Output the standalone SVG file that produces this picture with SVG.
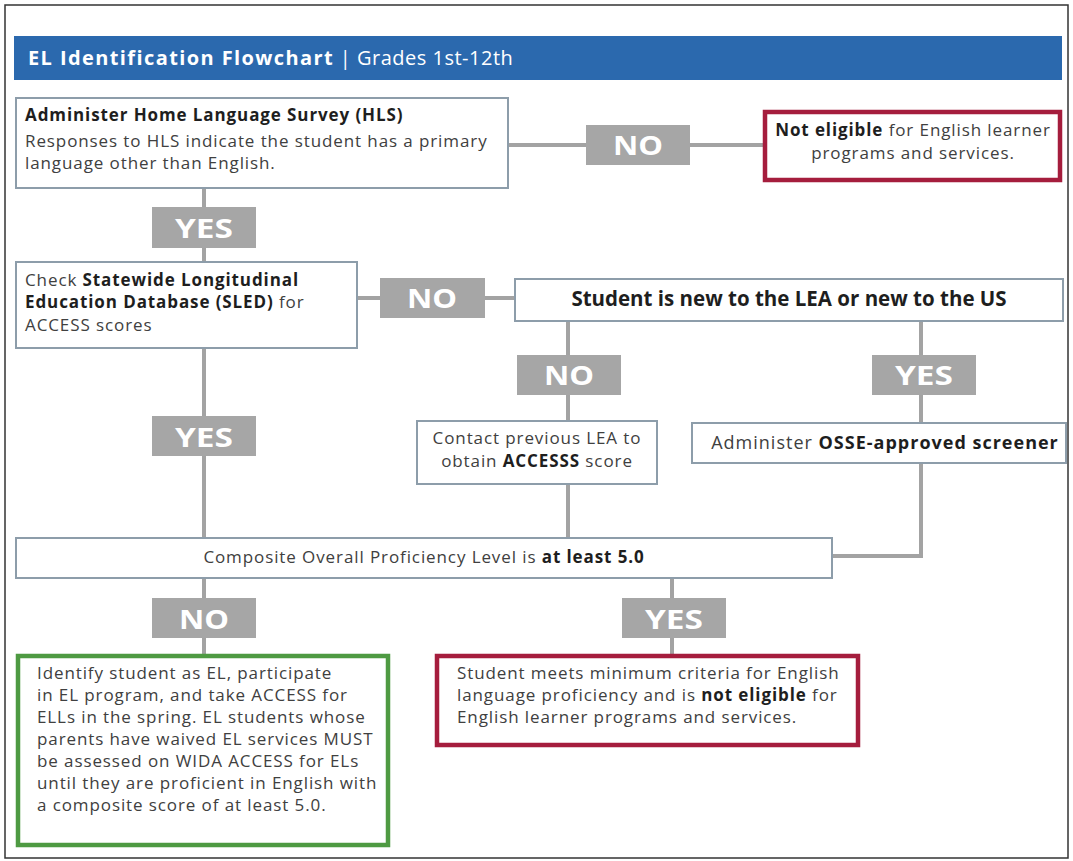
<svg xmlns="http://www.w3.org/2000/svg" width="1073" height="861" viewBox="0 0 1073 861">
<style>
text{font-family:"Open Sans","Noto Sans","Liberation Sans",sans-serif;fill:#404040;font-size:17px;letter-spacing:0.9px}
.b{font-weight:bold;fill:#1e1e1e}
.box{fill:#fff;stroke:#8d9daa;stroke-width:2}
.red{fill:#fff;stroke:#a51d3d;stroke-width:4.5}
.green{fill:#fff;stroke:#4e9a42;stroke-width:4.5}
.lbl{fill:#a6a6a6}
.lt{fill:#fff;font-weight:bold;font-size:27px;text-anchor:middle;letter-spacing:0}
.ln{fill:none;stroke:#a3a3a3;stroke-width:4}
.c{text-anchor:middle}
</style>
<rect x="0" y="0" width="1073" height="861" fill="#fff"/>
<rect x="5" y="5" width="1063" height="853" fill="none" stroke="#333" stroke-width="1.5"/>
<g id="banner">
<rect x="14" y="36" width="1048" height="44" fill="#2b69ae"/>
<text x="28" y="65" style="fill:#fff;font-size:20px;letter-spacing:0.5px"><tspan font-weight="bold" style="letter-spacing:1.4px">EL Identification Flowchart</tspan> |  Grades 1st-12th</text>
</g>
<g id="connectors">
<path class="ln" d="M508 145 H765"/>
<path class="ln" d="M204 188 V262"/>
<path class="ln" d="M357 298 H515"/>
<path class="ln" d="M568 321 V421"/>
<path class="ln" d="M921 321 V423"/>
<path class="ln" d="M204 348 V538"/>
<path class="ln" d="M568 484 V538"/>
<path class="ln" d="M921 463 V556 H832"/>
<path class="ln" d="M204 578 V656"/>
<path class="ln" d="M672 578 V656"/>
</g>
<g id="hls">
<rect class="box" x="16" y="98" width="492" height="90"/>
<text x="25" y="121" class="b">Administer Home Language Survey (HLS)</text>
<text x="25" y="147">Responses to HLS indicate the student has a primary</text>
<text x="25" y="169">language other than English.</text>
</g>
<g id="no1">
<rect class="lbl" x="586" y="125" width="104" height="40"/>
<text class="lt" x="638" y="155" textLength="50" lengthAdjust="spacingAndGlyphs">NO</text>
</g>
<g id="noteligible1">
<rect class="red" x="765" y="112" width="295" height="68"/>
<text class="c" x="913" y="136"><tspan class="b">Not eligible</tspan> for English learner</text>
<text class="c" x="913" y="159">programs and services.</text>
</g>
<g id="yes1">
<rect class="lbl" x="152" y="207" width="104" height="41"/>
<text class="lt" x="204" y="238" textLength="58" lengthAdjust="spacingAndGlyphs">YES</text>
</g>
<g id="sled">
<rect class="box" x="16" y="262" width="341" height="86"/>
<text x="25" y="286">Check <tspan class="b">Statewide Longitudinal</tspan></text>
<text x="25" y="308"><tspan class="b">Education Database (SLED)</tspan> for</text>
<text x="25" y="331">ACCESS scores</text>
</g>
<g id="no2">
<rect class="lbl" x="380" y="278" width="105" height="40"/>
<text class="lt" x="432" y="308" textLength="50" lengthAdjust="spacingAndGlyphs">NO</text>
</g>
<g id="newstudent">
<rect class="box" x="515" y="279" width="548" height="42"/>
<text class="b c" x="789" y="306" style="font-size:20.5px;letter-spacing:0">Student is new to the LEA or new to the US</text>
</g>
<g id="no3">
<rect class="lbl" x="517" y="355" width="104" height="40"/>
<text class="lt" x="569" y="385" textLength="50" lengthAdjust="spacingAndGlyphs">NO</text>
</g>
<g id="yes2">
<rect class="lbl" x="872" y="355" width="104" height="40"/>
<text class="lt" x="924" y="385" textLength="58" lengthAdjust="spacingAndGlyphs">YES</text>
</g>
<g id="contact">
<rect class="box" x="417" y="421" width="240" height="63"/>
<text class="c" x="537" y="444">Contact previous LEA to</text>
<text class="c" x="537" y="467">obtain <tspan class="b">ACCESSS</tspan> score</text>
</g>
<g id="screener">
<rect class="box" x="692" y="423" width="374" height="40"/>
<text class="c" x="885" y="449" style="font-size:18px;letter-spacing:1px">Administer <tspan class="b">OSSE-approved screener</tspan></text>
</g>
<g id="yes3">
<rect class="lbl" x="152" y="416" width="104" height="40"/>
<text class="lt" x="204" y="447" textLength="58" lengthAdjust="spacingAndGlyphs">YES</text>
</g>
<g id="composite">
<rect class="box" x="16" y="538" width="816" height="40"/>
<text class="c" x="424" y="563">Composite Overall Proficiency Level is <tspan class="b">at least 5.0</tspan></text>
</g>
<g id="no4">
<rect class="lbl" x="152" y="598" width="104" height="40"/>
<text class="lt" x="204" y="629" textLength="50" lengthAdjust="spacingAndGlyphs">NO</text>
</g>
<g id="yes4">
<rect class="lbl" x="622" y="598" width="104" height="40"/>
<text class="lt" x="674" y="629" textLength="58" lengthAdjust="spacingAndGlyphs">YES</text>
</g>
<g id="identify">
<rect class="green" x="18" y="656" width="370" height="189"/>
<text x="37" y="679">Identify student as EL, participate</text>
<text x="37" y="701">in EL program, and take ACCESS for</text>
<text x="37" y="723">ELLs in the spring. EL students whose</text>
<text x="37" y="745">parents have waived EL services MUST</text>
<text x="37" y="767">be assessed on WIDA ACCESS for ELs</text>
<text x="37" y="789">until they are proficient in English with</text>
<text x="37" y="811">a composite score of at least 5.0.</text>
</g>
<g id="meets">
<rect class="red" x="437" y="656" width="421" height="89"/>
<text x="457" y="679">Student meets minimum criteria for English</text>
<text x="457" y="701">language proficiency and is <tspan class="b">not eligible</tspan> for</text>
<text x="457" y="723">English learner programs and services.</text>
</g>
</svg>
